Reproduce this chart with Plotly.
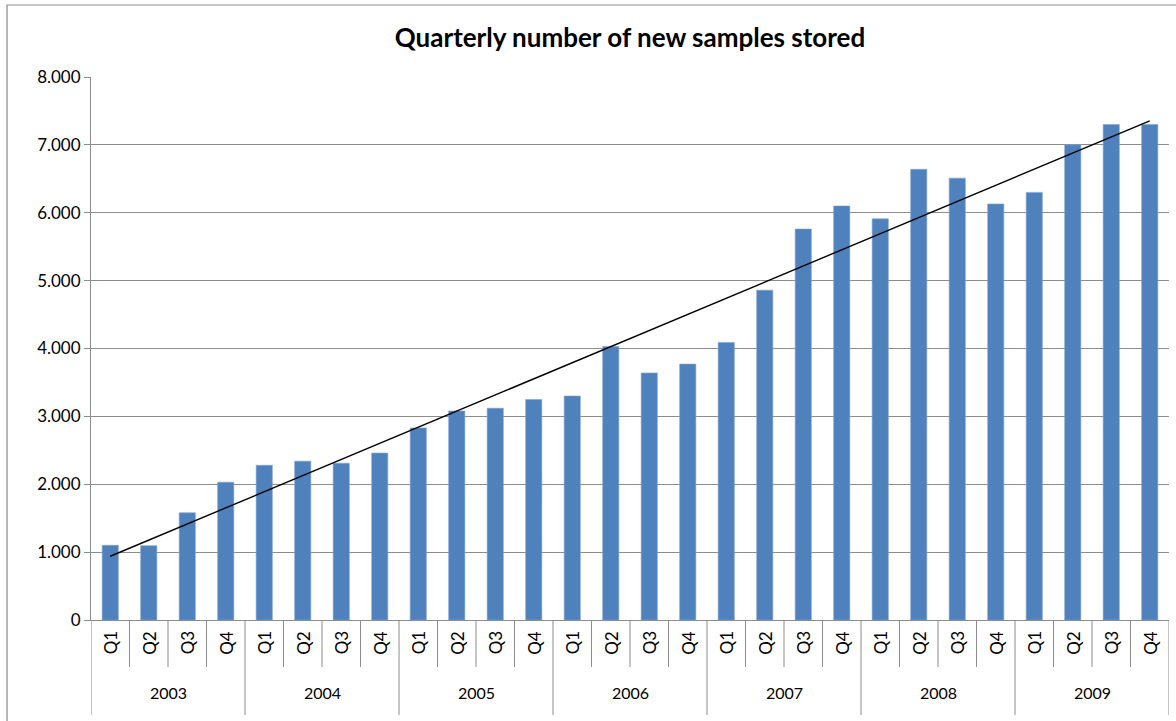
import numpy as np
import plotly.graph_objects as go

years = ["2003", "2004", "2005", "2006", "2007", "2008", "2009"]
quarters = ["Q1", "Q2", "Q3", "Q4"]
samples = [1100, 1095, 1580, 2030,
           2280, 2340, 2310, 2460,
           2830, 3080, 3120, 3250,
           3300, 4030, 3640, 3770,
           4090, 4860, 5760, 6100,
           5910, 6640, 6510, 6130,
           6300, 7000, 7300, 7300]
y_ticks = [0, 1000, 2000, 3000, 4000, 5000, 6000, 7000, 8000]

n = len(samples)
xs = np.arange(n)
slope, intercept = np.polyfit(xs, samples, 1)
trend_x = [0, n - 1]
trend_y = [intercept, intercept + slope * (n - 1)]

FONT = "Lato"
GRID = "#8c8c8c"

fig = go.Figure()
fig.add_trace(go.Bar(x=list(xs), y=samples, width=0.42,
                     marker=dict(color="#4F81BD", line=dict(color="#7fa3d3", width=0.6)),
                     showlegend=False, hoverinfo="y"))
fig.add_trace(go.Scatter(x=trend_x, y=trend_y, mode="lines",
                         line=dict(color="black", width=1.4), showlegend=False))

annotations = []
shapes = []
# quarter labels
for i in range(n):
    annotations.append(dict(x=i, y=-0.0424, xref="x", yref="paper", text=quarters[i % 4],
                            textangle=-90, showarrow=False, font=dict(family=FONT, size=17, color="black"),
                            xanchor="center", yanchor="middle"))
# year labels
for k, yr in enumerate(years):
    annotations.append(dict(x=4 * k + 1.5, y=-0.1344, xref="x", yref="paper", text=yr,
                            showarrow=False, font=dict(family=FONT, size=16, color="black"),
                            xanchor="center", yanchor="middle"))
# dividers
for i in range(n + 1):
    bottom = -0.175 if i % 4 == 0 else -0.0866
    shapes.append(dict(type="line", xref="x", yref="paper", x0=i - 0.5, x1=i - 0.5,
                       y0=0, y1=bottom, line=dict(color=GRID, width=1)))
# chart frame
shapes.append(dict(type="rect", xref="paper", yref="paper", x0=-0.0779, x1=1.05,
                   y0=-0.3, y1=1.1326, line=dict(color="#8c8c8c", width=1.2), layer="below"))

fig.update_layout(
    width=1176, height=721,
    margin=dict(l=91, r=7, t=77, b=101),
    paper_bgcolor="white", plot_bgcolor="white",
    separators=",.",
    title=dict(text="<b>Quarterly number of new samples stored</b>", x=0.5, xref="paper",
               y=0.947, yanchor="middle",
               font=dict(family=FONT, size=26, color="black")),
    xaxis=dict(range=[-0.5, n - 0.5], showticklabels=False, showgrid=False, zeroline=False,
               showline=True, linecolor=GRID, linewidth=1, ticks=""),
    yaxis=dict(range=[0, 8000], tickvals=y_ticks, tickformat=",d", showgrid=True, gridcolor=GRID,
               gridwidth=1, zeroline=False, showline=True, linecolor=GRID, linewidth=1,
               ticks="outside", ticklen=6, tickcolor=GRID,
               tickfont=dict(family=FONT, size=17, color="black")),
    annotations=annotations, shapes=shapes,
    bargap=0.58,
)

fig.write_html("out.html", config={"displayModeBar": False},
               post_script="document.body.style.margin='0';")
